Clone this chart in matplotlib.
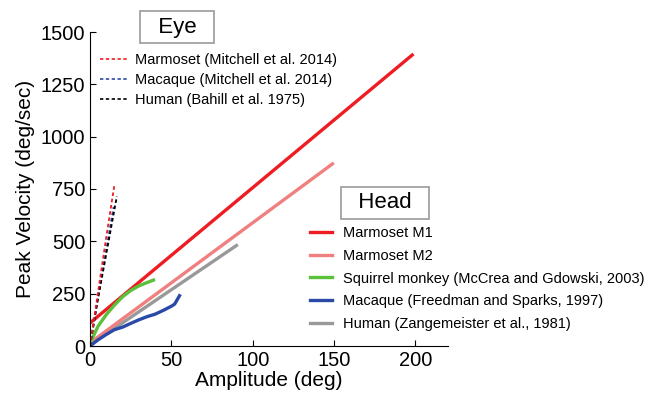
import matplotlib
matplotlib.use("Agg")
import matplotlib.pyplot as plt
from matplotlib.lines import Line2D

plt.rcParams["font.family"] = ["Liberation Sans", "DejaVu Sans"]

# head movement fits
m1_amp = [0, 198]
m1_vel = [110, 1390]
m2_amp = [0, 149]
m2_vel = [15, 870]
human_head_amp = [0, 90]
human_head_vel = [5, 480]
squirrel_amp = [1, 5, 10, 15, 20, 25, 30, 35, 39]
squirrel_vel = [30, 95, 150, 195, 235, 265, 287, 303, 315]
macaque_head_amp = [0, 5, 10, 15, 20, 25, 30, 35, 40, 45, 50, 52, 55]
macaque_head_vel = [0, 30, 55, 78, 90, 108, 125, 140, 152, 170, 190, 200, 240]

# eye saccade main sequences
marm_eye_amp = [0, 5, 10, 15]
marm_eye_vel = [0, 260, 520, 770]
mac_eye_amp = [0, 5, 10, 14.5]
mac_eye_vel = [0, 235, 460, 665]
human_eye_amp = [0, 5, 10, 16.5]
human_eye_vel = [0, 230, 440, 715]

eye_labels = ["Marmoset (Mitchell et al. 2014)", "Macaque (Mitchell et al. 2014)",
              "Human (Bahill et al. 1975)"]
head_labels = ["Marmoset M1", "Marmoset M2", "Squirrel monkey (McCrea and Gdowski, 2003)",
               "Macaque (Freedman and Sparks, 1997)", "Human (Zangemeister et al., 1981)"]

c_m1 = "#ee1c23"
c_m2 = "#f08080"
c_sq = "#5cc13a"
c_mac = "#2b4aa8"
c_hum = "#999999"

fig = plt.figure(figsize=(6.48, 4.0), dpi=100)
ax = fig.add_axes([90 / 648, 54 / 400, (448 - 90) / 648, (346 - 32) / 400])

lw = 2.4
ax.plot(human_head_amp, human_head_vel, color=c_hum, lw=lw)
ax.plot(m2_amp, m2_vel, color=c_m2, lw=lw)
ax.plot(m1_amp, m1_vel, color=c_m1, lw=lw)
ax.plot(macaque_head_amp, macaque_head_vel, color=c_mac, lw=lw)
ax.plot(squirrel_amp, squirrel_vel, color=c_sq, lw=lw)

ax.plot(mac_eye_amp, mac_eye_vel, color=c_mac, lw=1.3, ls=(0, (2, 1.5)))
ax.plot(human_eye_amp, human_eye_vel, color="black", lw=1.3, ls=(0, (2, 1.5)))
ax.plot(marm_eye_amp, marm_eye_vel, color=c_m1, lw=1.3, ls=(0, (2, 1.5)))

ax.set_xlim(0, 220)
ax.set_ylim(0, 1500)
ax.set_xticks([0, 50, 100, 150, 200])
ax.set_yticks([0, 250, 500, 750, 1000, 1250, 1500])
ax.tick_params(direction="in", labelsize=14.5, length=4, width=0.8)
ax.spines["top"].set_visible(False)
ax.spines["right"].set_visible(False)
ax.set_xlabel("Amplitude (deg)", fontsize=15, labelpad=1)
ax.set_ylabel("Peak Velocity (deg/sec)", fontsize=15, labelpad=4)

eye_handles = [Line2D([], [], color=c, lw=1.2, ls=(0, (2, 1.5)))
               for c in [c_m1, c_mac, "black"]]
leg1 = fig.legend(eye_handles, eye_labels, loc="upper left", bbox_to_anchor=(100 / 648, 1 - 53 / 400),
                  frameon=False, fontsize=10.5, handlelength=1.9, handletextpad=0.5,
                  labelspacing=0.42, borderaxespad=0, borderpad=0)

head_handles = [Line2D([], [], color=c, lw=2.4) for c in [c_m1, c_m2, c_sq, c_mac, c_hum]]
leg2 = fig.legend(head_handles, head_labels, loc="upper left", bbox_to_anchor=(310 / 648, 1 - 226 / 400),
                  frameon=False, fontsize=10.5, handlelength=1.5, handletextpad=0.75,
                  labelspacing=0.6, borderaxespad=0, borderpad=0)

box = dict(boxstyle="square,pad=0.25", facecolor="white", edgecolor="#999999", lw=1.2)
fig.text(177 / 648, 1 - 27 / 400, "  Eye  ", fontsize=16, ha="center", va="center", bbox=box)
fig.text(385 / 648, 1 - 203 / 400, "  Head  ", fontsize=16, ha="center", va="center", bbox=box)

fig.savefig("out.png", dpi=100)
